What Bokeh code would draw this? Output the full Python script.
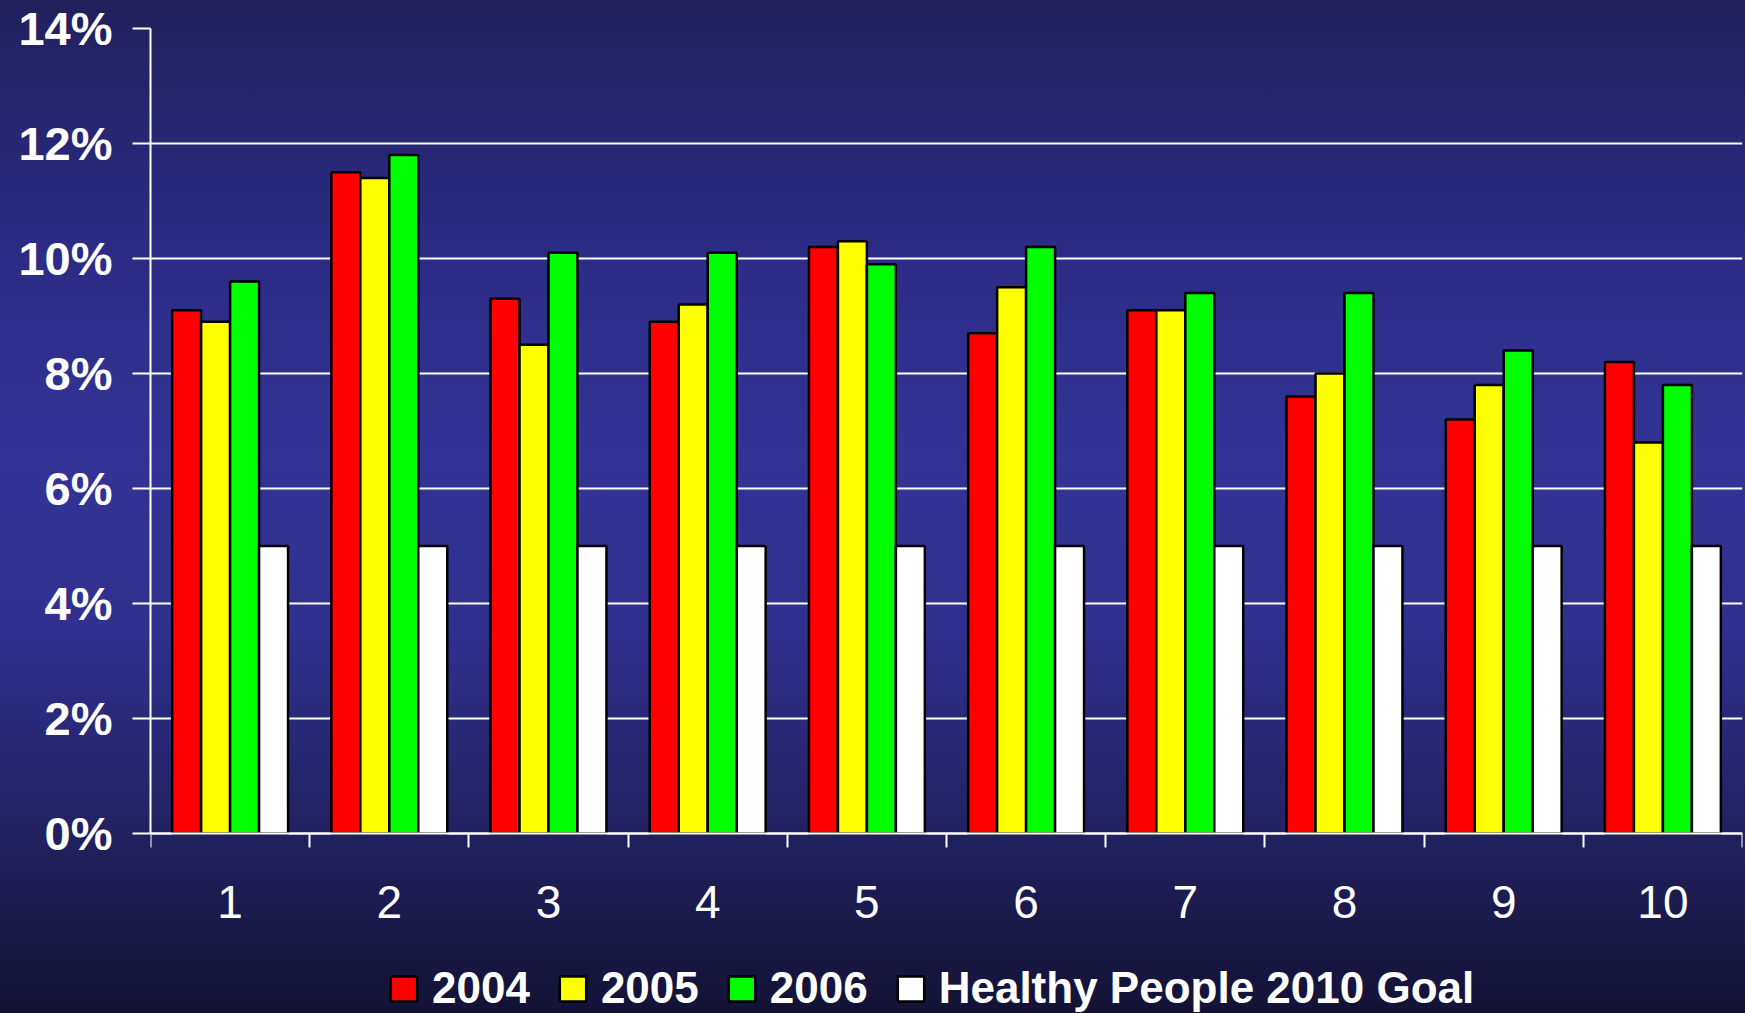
import numpy as np
from bokeh.plotting import figure
from bokeh.models import (Range1d, FixedTicker, PrintfTickFormatter, Legend, LegendItem)
from bokeh.embed import file_html
from bokeh.resources import INLINE

categories = [1, 2, 3, 4, 5, 6, 7, 8, 9, 10]
series_names = ["2004", "2005", "2006", "Healthy People 2010 Goal"]
v2004 = [9.1, 11.5, 9.3, 8.9, 10.2, 8.7, 9.1, 7.6, 7.2, 8.2]
v2005 = [8.9, 11.4, 8.5, 9.2, 10.3, 9.5, 9.1, 8.0, 7.8, 6.8]
v2006 = [9.6, 11.8, 10.1, 10.1, 9.9, 10.2, 9.4, 9.4, 8.4, 7.8]
goal = [5.0, 5.0, 5.0, 5.0, 5.0, 5.0, 5.0, 5.0, 5.0, 5.0]
y_ticks = [0, 2, 4, 6, 8, 10, 12, 14]
colors = ["#ff0000", "#ffff00", "#00ff00", "#ffffff"]

W, H = 1745, 1013
TOP = 28
# frame runs from TOP to the bottom of the page; 0% sits at y=833 px
span = 14.0 * (H - TOP) / (833 - TOP)
p = figure(width=W, height=H, output_backend="svg", toolbar_location=None,
           x_range=Range1d(0.5, 10.5), y_range=Range1d(14.0 - span, 14.0),
           min_border_left=150, min_border_right=3, min_border_top=TOP,
           min_border_bottom=0)
p.background_fill_alpha = 0
p.border_fill_alpha = 0
p.outline_line_color = None
p.styles = {
    "background": "linear-gradient(to bottom, #21205c 0%, #2c2c86 25%, #333396 45%, #30308e 62%, #232366 80%, #131235 100%)",
}

bar_w = 0.182
offsets = [-1.5 * bar_w, -0.5 * bar_w, 0.5 * bar_w, 1.5 * bar_w]
cats = np.array(categories, dtype=float)
renderers = []
for vals, off, col in zip([v2004, v2005, v2006, goal], offsets, colors):
    r = p.vbar(x=cats + off, top=vals, width=bar_w, bottom=0,
               fill_color=col, line_color="#000000", line_width=2.5)
    renderers.append(r)

# grid
p.xgrid.grid_line_color = None
p.ygrid.ticker = FixedTicker(ticks=y_ticks)
p.ygrid.grid_line_color = "#ffffff"
p.ygrid.grid_line_width = 2
p.ygrid.level = "underlay"

# y axis
ya = p.yaxis[0]
ya.ticker = FixedTicker(ticks=y_ticks)
ya.formatter = PrintfTickFormatter(format="%d%%")
ya.bounds = (0, 14)
ya.axis_line_color = "#ffffff"
ya.axis_line_width = 2
ya.major_tick_line_color = "#ffffff"
ya.major_tick_line_width = 2
ya.major_tick_out = 18
ya.major_tick_in = 0
ya.minor_tick_line_color = None
ya.major_label_standoff = 20
ya.major_label_text_color = "#ffffff"
ya.major_label_text_font = "Liberation Sans"
ya.major_label_text_font_style = "bold"
ya.major_label_text_font_size = "47px"

# x axis, pinned at 0%
xa = p.xaxis[0]
xa.fixed_location = 0
xa.ticker = FixedTicker(ticks=categories, minor_ticks=[c - 0.5 for c in categories] + [categories[-1] + 0.5])
xa.axis_line_color = "#ffffff"
xa.axis_line_width = 2
xa.major_tick_line_color = None
xa.major_tick_out = 0
xa.major_tick_in = 0
xa.minor_tick_line_color = "#ffffff"
xa.minor_tick_line_width = 2
xa.minor_tick_out = 14
xa.minor_tick_in = 0
xa.major_label_standoff = 38
xa.major_label_text_color = "#ffffff"
xa.major_label_text_font = "Liberation Sans"
xa.major_label_text_font_size = "46px"

legend = Legend(items=[LegendItem(label=n, renderers=[r]) for n, r in zip(series_names, renderers)],
                orientation="horizontal", location=(237, 0),
                glyph_width=33, glyph_height=31, label_standoff=12, spacing=26,
                padding=0, margin=0, border_line_color=None, background_fill_alpha=0,
                label_text_color="#ffffff", label_text_font="Liberation Sans",
                label_text_font_style="bold", label_text_font_size="44px")
p.add_layout(legend, "center")

open("out.html", "w").write(file_html(p, INLINE))
